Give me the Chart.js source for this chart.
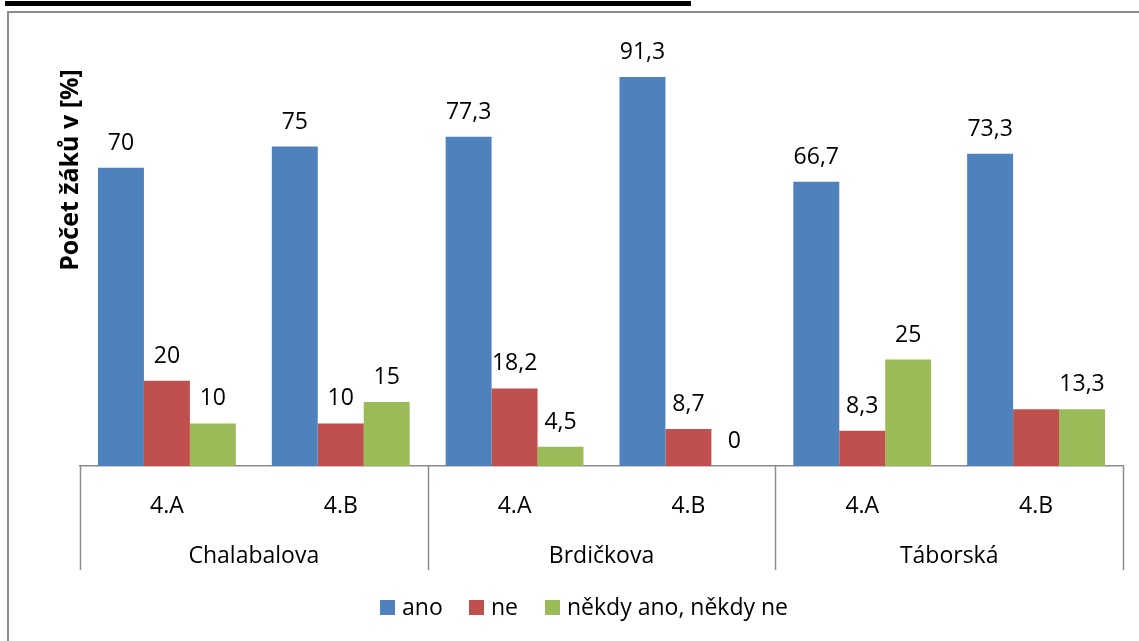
<!DOCTYPE html>
<html>
<head>
<meta charset="utf-8">
<script src="https://cdn.jsdelivr.net/npm/chart.js@4/dist/chart.umd.min.js"></script>
<style>
  html, body { margin: 0; padding: 0; background: #fff; }
  #wrap { width: 1139px; height: 641px; position: relative; }
</style>
</head>
<body>
<div id="wrap"><canvas id="chart" width="1139" height="641"></canvas></div>
<script>
// --- data ---
const classes = ['4.A', '4.B', '4.A', '4.B', '4.A', '4.B'];
const schools = ['Chalabalova', 'Brdičkova', 'Táborská'];
const seriesNames = ['ano', 'ne', 'někdy ano, někdy ne'];
const ano = [70, 75, 77.3, 91.3, 66.7, 73.3];
const ne = [20, 10, 18.2, 8.7, 8.3, 13.3];
const nekdy = [10, 15, 4.5, 0, 25, 13.3];
const COLORS = ['#4F81BD', '#C0504D', '#9BBB59'];
// Excel hid the red label where both values are 13,3
const hiddenLabels = [[], [5], []];

const FONT = "'Open Sans', sans-serif";
const fmt = (v) => String(v).replace('.', ',');

// --- decorations: frame, axis title, separators, group labels, legend, value labels ---
const decor = {
  id: 'decor',
  beforeDraw(chart) {
    const ctx = chart.ctx;
    ctx.save();
    ctx.fillStyle = '#fff';
    ctx.fillRect(0, 0, chart.width, chart.height);
    ctx.fillStyle = '#000';
    ctx.fillRect(5, 1, 686, 5);
    ctx.strokeStyle = '#8c8c8c';
    ctx.lineWidth = 2;
    ctx.strokeRect(8, 12, 1200, 700);
    ctx.restore();
  },
  afterDraw(chart) {
    const ctx = chart.ctx;
    const area = chart.chartArea;
    const x = chart.scales.x;
    ctx.save();

    // group separators
    ctx.strokeStyle = '#8c8c8c';
    ctx.lineWidth = 1.5;
    const w = (area.right - area.left) / schools.length;
    for (let i = 0; i <= schools.length; i++) {
      const px = Math.round(area.left + i * w) + 0.5;
      ctx.beginPath();
      ctx.moveTo(px, area.bottom);
      ctx.lineTo(px, 570);
      ctx.stroke();
    }

    // group labels
    ctx.fillStyle = '#000';
    ctx.font = '23px ' + FONT;
    ctx.textAlign = 'center';
    ctx.textBaseline = 'alphabetic';
    schools.forEach((s, i) => {
      const cx = (x.getPixelForValue(2 * i) + x.getPixelForValue(2 * i + 1)) / 2;
      ctx.fillText(s, cx, 563);
    });

    // value labels
    chart.data.datasets.forEach((ds, di) => {
      const meta = chart.getDatasetMeta(di);
      meta.data.forEach((bar, i) => {
        if (hiddenLabels[di].includes(i)) return;
        ctx.fillText(fmt(ds.data[i]), bar.x, bar.y - 18);
      });
    });

    // axis title
    ctx.font = 'bold 25px ' + FONT;
    ctx.translate(71, 170);
    ctx.rotate(-Math.PI / 2);
    ctx.textBaseline = 'middle';
    ctx.fillText('Počet žáků v [%]', 0, 0);
    ctx.setTransform(1, 0, 0, 1, 0, 0);

    // legend
    const legendX = [380, 469, 545];
    ctx.font = '23px ' + FONT;
    ctx.textAlign = 'left';
    ctx.textBaseline = 'alphabetic';
    seriesNames.forEach((name, i) => {
      ctx.fillStyle = COLORS[i];
      ctx.fillRect(legendX[i], 600, 15, 15);
      ctx.fillStyle = '#000';
      ctx.fillText(name, legendX[i] + 22, 615);
    });
    ctx.restore();
  },
};

new Chart(document.getElementById('chart'), {
  type: 'bar',
  data: {
    labels: classes,
    datasets: [ano, ne, nekdy].map((values, i) => ({
      label: seriesNames[i],
      data: values,
      backgroundColor: COLORS[i],
      borderWidth: 0,
      barPercentage: 1,
      categoryPercentage: 0.793,
    })),
  },
  options: {
    responsive: false,
    animation: false,
    layout: { padding: { left: 80, right: 16, top: 40, bottom: 0 } },
    plugins: {
      legend: { display: false },
      tooltip: { enabled: false },
    },
    scales: {
      x: {
        grid: { display: false },
        border: { display: true, color: '#8c8c8c', width: 1.5 },
        ticks: {
          color: '#000',
          font: { family: FONT, size: 23 },
          padding: 19,
          maxRotation: 0,
        },
        afterFit: (scale) => { scale.height = 175; },
      },
      y: {
        display: false,
        min: 0,
        max: 100,
      },
    },
  },
  plugins: [decor],
});
</script>
</body>
</html>
